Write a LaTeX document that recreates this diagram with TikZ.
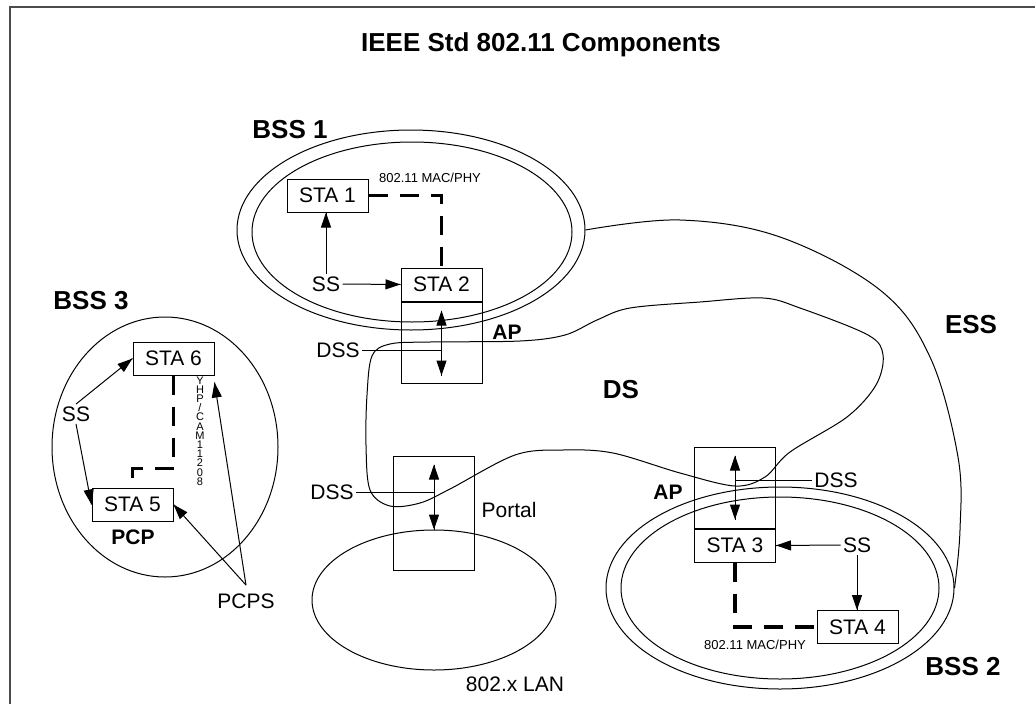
\documentclass[tikz,border=0pt]{standalone}
\usepackage{fontspec}
\setmainfont{Liberation Sans}
\usepackage{tikz}
\usetikzlibrary{arrows.meta}
\usetikzlibrary{decorations.markings}
\usetikzlibrary{positioning}
\usetikzlibrary{shapes.geometric}
\tikzset{->/.style = {decoration={markings,
                                  mark=at position 1 with {\arrow{Triangle[length=15pt, width=10pt]}}},
                      postaction={decorate}}}
\tikzset{<->/.style = {decoration={markings,
                                   mark=at position 0 with {\arrowreversed{Triangle[length=15pt, width=10pt]}},
                                   mark=at position 1 with {\arrow{Triangle[length=15pt, width=10pt]}}},
                       postaction={decorate}}}
\tikzset{stabox/.style = {draw, rectangle, minimum width=81pt, minimum height=33pt,
                          inner sep=0pt, font=\fontsize{21}{24}\selectfont},
         apbox/.style = {draw, rectangle, minimum width=81pt, inner sep=0pt},
         bss/.style = {draw, ellipse, inner sep=0pt},
         lbl/.style = {font=\fontsize{26}{30}\selectfont\bfseries},
         aplbl/.style = {font=\fontsize{21}{24}\selectfont\bfseries},
         txt/.style = {font=\fontsize{21}{24}\selectfont, inner sep=2pt},
         small/.style = {font=\fontsize{13}{15}\selectfont, inner sep=0pt},
         link/.style = {line width=3.5pt, dash pattern=on 19pt off 12pt}}

\begin{document}
\begin{tikzpicture}[x=1pt, y=-1pt, line width=1pt]
    \useasboundingbox (0, 0) rectangle (1035, 704);
    \draw [black!70, line width=1.5pt] (10, 704) -- (10, 7) -- (1035, 7);

    \node [lbl] (title) at (541, 45) {IEEE Std 802.11 Components};

    \node [bss, minimum width=348pt, minimum height=200pt] (bss1out) at (411, 230) {};
    \node [bss, minimum width=320pt, minimum height=180pt] (bss1in) at (412, 232) {};
    \node [bss, minimum width=348pt, minimum height=202pt] (bss2out) at (780, 588) {};
    \node [bss, minimum width=318pt, minimum height=182pt] (bss2in) at (780, 588) {};
    \node [bss, minimum width=226pt, minimum height=260pt] (bss3) at (165, 447) {};
    \node [bss, minimum width=244pt, minimum height=140pt] (lan) at (434, 600) {};

    \node [lbl] (bss1lbl) at (290, 130) {BSS 1};
    \node [lbl] (bss2lbl) at (963, 667) {BSS 2};
    \node [lbl] (bss3lbl) at (91, 301) {BSS 3};
    \node [lbl] (dslbl) at (621, 390) {DS};
    \node [lbl] (esslbl) at (971, 325) {ESS};

    \draw plot [smooth, tension=0.6] coordinates {(bss1out.east) (680, 220) (780, 237) (880, 290)
        (930, 357) (958, 457) (960, 530) (bss2out.east)};

    \draw plot [smooth cycle, tension=0.55] coordinates {(520, 341) (430, 342) (390, 344) (372, 356)
        (367, 395) (366, 445) (370, 490) (390, 506) (420, 503) (450, 489) (515, 455) (563, 450)
        (613, 453) (680, 473) (735, 486) (765, 477) (790, 452) (847, 417) (876, 385) (883, 355)
        (868, 335) (800, 308) (763, 298) (700, 302) (630, 308) (597, 320) (565, 335)};

    \node [stabox] (sta1) at (327.5, 195.5) {STA 1};
    \node [stabox] (sta2) at (441.5, 284.5) {STA 2};
    \node [apbox, minimum height=81pt, below=0pt of sta2] (ap1) {};
    \node [stabox] (sta3) at (735, 545.5) {STA 3};
    \node [apbox, minimum height=81pt, above=0pt of sta3] (ap2) {};
    \node [stabox] (sta4) at (857.5, 627) {STA 4};
    \node [stabox] (sta5) at (132.5, 504.5) {STA 5};
    \node [stabox] (sta6) at (173.5, 358.5) {STA 6};
    \node [apbox, minimum height=114pt] (portal) at (434, 513) {};

    \node [aplbl] (ap1lbl) at (507, 332) {AP};
    \node [aplbl] (ap2lbl) at (668, 492) {AP};
    \node [aplbl] (pcp) at (133, 537) {PCP};

    \node [txt] (ss1) at (326, 284) {SS};
    \node [txt] (ss2) at (857, 545) {SS};
    \node [txt] (ss3) at (76, 414) {SS};
    \node [txt] (dss1) at (338, 350) {DSS};
    \node [txt] (dss2) at (332, 492) {DSS};
    \node [txt] (dss3) at (836, 480) {DSS};
    \node [txt] (portallbl) at (509, 510) {Portal};
    \node [txt] (lanlbl) at (515, 684) {802.x LAN};
    \node [txt] (pcps) at (246, 601) {PCPS};
    \node [small] (mac1) at (430, 178) {802.11 MAC/PHY};
    \node [small] (mac2) at (755, 645) {802.11 MAC/PHY};
    \node [small, align=center, font=\fontsize{11}{9.2}\selectfont] (mac3) at (200, 431)
        {Y\\H\\P\\/\\C\\A\\M\\1\\1\\2\\0\\8};

    \draw [link] (sta1.east) -| (sta2.north);
    \draw [link] (sta3.south) |- (sta4.west);
    \draw [link] (sta6.south) -- ++(0, 93) -| (sta5.north);

    \draw [->] (ss1.east) -- (sta2.west);
    \draw [->] (ss1.north) -- (ss1.north |- sta1.south);
    \draw [->] (ss2.west) -- (sta3.east);
    \draw [->] (ss2.south) -- (ss2.south |- sta4.north);
    \draw [->] (ss3.north) -- (sta6.west);
    \draw [->] (ss3.south) -- (sta5.west);
    \draw [->] ([yshift=6pt]pcps.north) -- (sta5.east);
    \draw [->] ([yshift=6pt]pcps.north) -- ([yshift=-7pt]sta6.south east);

    \draw [<->] ([yshift=-9pt]ap1.north) -- ([yshift=8pt]ap1.south);
    \draw [<->] ([yshift=-9pt]portal.north) -- (lan.north);
    \draw [<->] ([yshift=-9pt]ap2.north) -- ([yshift=9pt]ap2.south);

    \draw (dss1.east) -- (dss1.east -| ap1.center);
    \draw (dss2.east) -- (dss2.east -| portal.center);
    \draw (dss3.west) -- (dss3.west -| ap2.center);
\end{tikzpicture}
\end{document}
